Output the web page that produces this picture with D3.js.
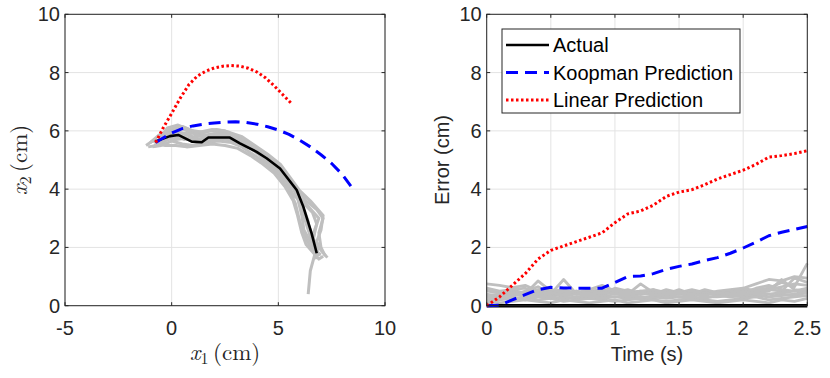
<!DOCTYPE html>
<html>
<head>
<meta charset="utf-8">
<script src="https://cdn.jsdelivr.net/npm/d3@7"></script>
<style>
  body { margin: 0; background: #fff; }
  svg { display: block; }
</style>
</head>
<body>
<div id="chart"></div>
<script>
// ---- Data: left panel (trajectories in x1, x2 cm) ----
const actualPath = [[-0.78,5.63],[-0.08,5.82],[0.31,5.86],[0.94,5.63],[1.41,5.61],[1.72,5.77],[2.73,5.77],[3.2,5.57],[3.98,5.28],[4.45,5.06],[5.08,4.71],[5.86,3.97],[6.17,3.4],[6.56,2.48],[6.8,1.8]];
const koopmanPath = [[-0.75,5.6],[0,5.93],[0.5,6.08],[1,6.17],[1.5,6.23],[2,6.27],[2.5,6.3],[3,6.31],[3.5,6.29],[4,6.23],[4.5,6.14],[5,6.03],[5.5,5.88],[6,5.68],[6.5,5.45],[7,5.18],[7.5,4.88],[8,4.5],[8.4,4.1]];
const linearPath = [[-0.75,5.6],[-0.4,6.1],[0,6.6],[0.4,7.12],[0.8,7.58],[1.2,7.88],[1.6,8.05],[2.0,8.16],[2.4,8.22],[2.8,8.24],[3.2,8.22],[3.6,8.15],[4.0,8.02],[4.4,7.82],[4.8,7.55],[5.2,7.25],[5.6,6.95]];
const trialPaths = [
  [[-1.2,5.5],[-0.8,5.7],[-0.4,5.6],[0,6.0],[0.5,5.9],[1.0,5.8],[1.5,5.85],[2.0,5.9],[2.5,5.85],[3.0,5.7],[3.5,5.5],[4.0,5.3],[4.5,5.1],[5.0,4.8],[5.4,4.4],[5.8,3.9],[6.1,3.3],[6.4,2.6],[6.7,2.0],[6.9,1.7]],
  [[-0.9,5.45],[-0.5,5.5],[0,5.65],[0.5,5.55],[1.0,5.5],[1.6,5.6],[2.2,5.65],[2.8,5.6],[3.3,5.45],[3.8,5.2],[4.4,4.9],[5.0,4.5],[5.5,4.0],[5.8,3.5],[6.0,2.9],[6.3,2.3],[6.6,1.9],[7.0,1.75]],
  [[-0.6,5.7],[-0.2,6.1],[0.3,6.2],[0.8,6.05],[1.3,5.9],[1.8,6.0],[2.4,5.95],[3.0,5.85],[3.6,5.6],[4.2,5.3],[4.8,4.95],[5.3,4.55],[5.7,4.1],[6.0,3.6],[6.3,3.0],[6.6,2.4],[6.8,2.0],[6.5,1.2],[6.4,0.4]],
  [[-0.7,5.6],[-0.3,5.75],[0.2,5.7],[0.7,5.75],[1.2,5.65],[1.7,5.8],[2.3,5.8],[2.9,5.75],[3.5,5.55],[4.1,5.25],[4.7,4.9],[5.3,4.45],[5.9,4.0],[6.3,3.6],[6.8,3.3],[7.1,3.0],[6.9,2.5],[7.0,2.0],[7.2,1.7]],
  [[-0.8,5.5],[-0.4,5.8],[0.1,5.9],[0.6,5.7],[1.1,5.75],[1.6,5.7],[2.1,5.85],[2.7,5.9],[3.3,5.65],[3.9,5.4],[4.5,5.15],[5.1,4.7],[5.6,4.2],[5.9,3.7],[6.1,3.1],[6.2,2.6],[6.5,2.2],[6.9,1.9]],
  [[-1.0,5.6],[-0.6,5.85],[-0.1,6.0],[0.4,6.1],[0.9,5.95],[1.4,5.8],[2.0,5.75],[2.6,5.7],[3.2,5.6],[3.8,5.35],[4.4,5.0],[4.9,4.65],[5.4,4.25],[5.7,3.8],[6.2,3.5],[6.6,3.2],[6.8,2.8],[6.6,2.2],[6.8,1.6]],
  [[-0.9,5.65],[-0.5,5.6],[0,5.75],[0.5,5.8],[1.0,5.7],[1.5,5.65],[2.1,5.7],[2.6,5.75],[3.1,5.6],[3.7,5.4],[4.3,5.15],[4.9,4.85],[5.5,4.3],[5.9,3.8],[6.4,3.4],[6.9,3.0],[6.7,2.6],[6.6,2.0],[6.9,1.8]],
  [[-1.1,5.45],[-0.7,5.5],[-0.2,5.9],[0.3,5.95],[0.8,5.9],[1.3,5.95],[1.9,6.05],[2.5,6.0],[3.1,5.8],[3.7,5.5],[4.3,5.25],[4.9,4.9],[5.4,4.45],[5.8,4.0],[6.1,3.5],[6.4,2.9],[6.5,2.3],[6.7,1.9]],
  [[-0.7,5.55],[-0.3,5.5],[0.2,5.5],[0.7,5.45],[1.3,5.5],[1.9,5.55],[2.5,5.5],[3.1,5.4],[3.7,5.15],[4.2,4.9],[4.8,4.55],[5.3,4.1],[5.7,3.6],[5.9,3.1],[6.1,2.5],[6.3,2.1],[6.9,1.6],[7.1,1.7]],
  [[-0.5,5.8],[0,6.1],[0.5,6.15],[1.0,6.0],[1.5,5.95],[2.1,6.05],[2.7,5.95],[3.3,5.8],[3.9,5.5],[4.5,5.2],[5.1,4.85],[5.6,4.35],[6.0,3.95],[6.5,3.6],[7.1,3.1],[7.0,2.6],[6.8,2.2],[7.0,1.9],[7.3,1.65]]
];

// ---- Data: right panel (error vs time) ----
const timeSteps = [0,0.1,0.2,0.3,0.4,0.5,0.6,0.7,0.8,0.9,1.0,1.1,1.2,1.3,1.4,1.5,1.6,1.7,1.8,1.9,2.0,2.1,2.2,2.3,2.4,2.5];
const actualError = [0,0,0,0,0,0,0,0,0,0,0,0,0,0,0,0,0,0,0,0,0,0,0,0,0,0];
const koopmanError = [0,0.02,0.2,0.38,0.55,0.63,0.61,0.6,0.6,0.6,0.8,1.0,1.02,1.1,1.25,1.35,1.43,1.55,1.65,1.8,1.98,2.18,2.4,2.52,2.62,2.72];
const linearError = [0,0.3,0.7,1.1,1.6,1.9,2.05,2.2,2.35,2.5,2.85,3.15,3.25,3.45,3.75,3.9,3.98,4.15,4.35,4.5,4.65,4.85,5.1,5.15,5.22,5.32];
const trialErrors = [
  [0.75,0.7,0.62,0.7,0.5,0.55,0.45,0.5,0.4,0.5,0.45,0.55,0.4,0.5,0.45,0.4,0.45,0.4,0.5,0.55,0.6,0.75,0.9,0.85,1.0,0.95],
  [0.5,0.45,0.55,0.4,0.85,0.5,0.45,0.4,0.5,0.55,0.45,0.4,0.75,0.45,0.4,0.55,0.4,0.45,0.35,0.4,0.5,0.55,0.6,0.8,0.65,1.45],
  [0.2,0.35,0.5,0.45,0.55,0.4,0.9,0.4,0.45,0.4,0.6,0.5,0.4,0.45,0.5,0.45,0.55,0.45,0.4,0.45,0.55,0.45,0.5,0.9,0.55,0.5],
  [0.1,0.3,0.4,0.35,0.45,0.35,0.4,0.5,0.35,0.4,0.45,0.35,0.4,0.55,0.35,0.4,0.35,0.5,0.35,0.5,0.4,0.45,0.55,0.5,0.95,0.8],
  [0.05,0.2,0.25,0.3,0.3,0.25,0.3,0.25,0.3,0.35,0.3,0.25,0.3,0.3,0.25,0.3,0.25,0.3,0.3,0.35,0.3,0.35,0.3,0.4,0.35,0.45],
  [0.4,0.3,0.2,0.3,0.2,0.25,0.15,0.2,0.25,0.2,0.15,0.2,0.25,0.2,0.15,0.2,0.25,0.2,0.15,0.2,0.25,0.3,0.2,0.25,0.3,0.35],
  [0.6,0.5,0.55,0.6,0.45,0.5,0.55,0.4,0.45,0.5,0.55,0.45,0.5,0.4,0.55,0.45,0.5,0.45,0.4,0.5,0.45,0.6,0.7,0.55,0.5,0.6],
  [0.3,0.25,0.3,0.2,0.35,0.3,0.25,0.3,0.35,0.25,0.3,0.35,0.3,0.25,0.35,0.3,0.3,0.25,0.35,0.3,0.35,0.4,0.3,0.35,0.4,0.5],
  [0.15,0.1,0.15,0.2,0.15,0.1,0.2,0.15,0.1,0.15,0.2,0.1,0.15,0.2,0.1,0.15,0.2,0.15,0.1,0.15,0.2,0.15,0.1,0.2,0.15,0.25],
  [0.55,0.45,0.35,0.5,0.65,0.4,0.5,0.45,0.55,0.7,0.5,0.45,0.5,0.55,0.45,0.5,0.4,0.55,0.45,0.45,0.6,0.5,0.55,0.65,0.75,0.7],
  [0.35,0.4,0.45,0.35,0.4,0.45,0.35,0.4,0.4,0.45,0.4,0.4,0.45,0.35,0.4,0.45,0.4,0.35,0.45,0.4,0.4,0.45,0.4,0.45,0.5,0.55]
];

const leftXTicks = [-5, 0, 5, 10];
const leftYTicks = [0, 2, 4, 6, 8, 10];
const rightXTicks = [0, 0.5, 1, 1.5, 2, 2.5];
const rightYTicks = [0, 2, 4, 6, 8, 10];
const legendLabels = ['Actual', 'Koopman Prediction', 'Linear Prediction'];

// ---- Styles ----
const axisColor = '#262626';
const gridColor = '#e3e3e3';
const grayColor = '#bfbfbf';
const font = 'Arial, "Liberation Sans", Helvetica, sans-serif';
const serif = '"Latin Modern Roman", "CMU Serif", "DejaVu Serif", "Liberation Serif", serif';
const lineStyles = [
  { color: '#000000', width: 2.6, dash: null },
  { color: '#0000ff', width: 3, dash: '12,7' },
  { color: '#ff0000', width: 3, dash: '2.5,2.5' }
];

const svg = d3.select('#chart').append('svg')
  .attr('width', 830)
  .attr('height', 378);

const plotTop = 14.3, plotBottom = 305.7;

function makeAxes(x0, x1, xDomain, xTicks, yTicks, xFmt) {
  const x = d3.scaleLinear().domain(xDomain).range([x0, x1]);
  const y = d3.scaleLinear().domain([0, 10]).range([plotBottom, plotTop]);
  const g = svg.append('g');

  // grid
  g.selectAll('line.gx').data(xTicks).join('line')
    .attr('x1', d => x(d)).attr('x2', d => x(d))
    .attr('y1', plotTop).attr('y2', plotBottom)
    .attr('stroke', gridColor).attr('stroke-width', 1);
  g.selectAll('line.gy').data(yTicks).join('line')
    .attr('y1', d => y(d)).attr('y2', d => y(d))
    .attr('x1', x0).attr('x2', x1)
    .attr('stroke', gridColor).attr('stroke-width', 1);

  const plot = g.append('g');
  const over = svg.append('g');

  // box
  over.append('rect')
    .attr('x', x0).attr('y', plotTop)
    .attr('width', x1 - x0).attr('height', plotBottom - plotTop)
    .attr('fill', 'none').attr('stroke', axisColor).attr('stroke-width', 1);

  // tick marks (inside, both sides)
  xTicks.forEach(t => {
    over.append('line').attr('x1', x(t)).attr('x2', x(t)).attr('y1', plotBottom).attr('y2', plotBottom - 3.5).attr('stroke', axisColor);
    over.append('line').attr('x1', x(t)).attr('x2', x(t)).attr('y1', plotTop).attr('y2', plotTop + 3.5).attr('stroke', axisColor);
  });
  yTicks.forEach(t => {
    over.append('line').attr('y1', y(t)).attr('y2', y(t)).attr('x1', x0).attr('x2', x0 + 3.5).attr('stroke', axisColor);
    over.append('line').attr('y1', y(t)).attr('y2', y(t)).attr('x1', x1).attr('x2', x1 - 3.5).attr('stroke', axisColor);
  });

  // tick labels
  over.selectAll('text.xt').data(xTicks).join('text')
    .attr('x', d => x(d)).attr('y', 335)
    .attr('text-anchor', 'middle')
    .attr('font-family', font).attr('font-size', 20)
    .attr('fill', axisColor)
    .text(xFmt);
  over.selectAll('text.yt').data(yTicks).join('text')
    .attr('x', x0 - 5).attr('y', d => y(d) + 7)
    .attr('text-anchor', 'end')
    .attr('font-family', font).attr('font-size', 20)
    .attr('fill', axisColor)
    .text(d => d);

  return { x, y, plot, over };
}

function drawLine(parent, pts, style) {
  const p = parent.append('path')
    .attr('d', d3.line()(pts))
    .attr('fill', 'none')
    .attr('stroke', style.color)
    .attr('stroke-width', style.width)
    .attr('stroke-linejoin', 'round');
  if (style.dash) p.attr('stroke-dasharray', style.dash);
  return p;
}

// ---- Left panel ----
const L = makeAxes(65, 385, [-5, 10], leftXTicks, leftYTicks, d => d);
const toL = pts => pts.map(p => [L.x(p[0]), L.y(p[1])]);
trialPaths.forEach(t => drawLine(L.plot, toL(t), { color: grayColor, width: 3 }));
drawLine(L.plot, toL(actualPath), lineStyles[0]);
drawLine(L.plot, toL(koopmanPath), lineStyles[1]);
drawLine(L.plot, toL(linearPath), lineStyles[2]);

// x1 label
const xl = L.over.append('text')
  .attr('x', 225).attr('y', 360)
  .attr('text-anchor', 'middle')
  .attr('font-family', serif).attr('font-size', 23)
  .attr('fill', axisColor);
xl.append('tspan').attr('font-style', 'italic').text('x');
xl.append('tspan').attr('font-size', 16).attr('dy', 4).text('1');
xl.append('tspan').attr('dy', -4).text('\u2009(cm)');

const yl = L.over.append('text')
  .attr('transform', `translate(27,${(plotTop + plotBottom) / 2}) rotate(-90)`)
  .attr('text-anchor', 'middle')
  .attr('font-family', serif).attr('font-size', 23)
  .attr('fill', axisColor);
yl.append('tspan').attr('font-style', 'italic').text('x');
yl.append('tspan').attr('font-size', 16).attr('dy', 4).text('2');
yl.append('tspan').attr('dy', -4).text('\u2009(cm)');

// ---- Right panel ----
const R = makeAxes(486.7, 807.3, [0, 2.5], rightXTicks, rightYTicks, d => d);
trialErrors.forEach(e => drawLine(R.plot, timeSteps.map((t, i) => [R.x(t), R.y(e[i])]), { color: grayColor, width: 2.8 }));
drawLine(R.plot, timeSteps.map((t, i) => [R.x(t), R.y(actualError[i])]), { color: '#000', width: 3.5 });
drawLine(R.plot, timeSteps.map((t, i) => [R.x(t), R.y(koopmanError[i])]), lineStyles[1]);
drawLine(R.plot, timeSteps.map((t, i) => [R.x(t), R.y(linearError[i])]), lineStyles[2]);

R.over.append('text')
  .attr('x', (486.7 + 807.3) / 2).attr('y', 361)
  .attr('text-anchor', 'middle')
  .attr('font-family', font).attr('font-size', 20)
  .attr('fill', axisColor)
  .text('Time (s)');

R.over.append('text')
  .attr('transform', `translate(449,${(plotTop + plotBottom) / 2}) rotate(-90)`)
  .attr('text-anchor', 'middle')
  .attr('font-family', font).attr('font-size', 20)
  .attr('fill', axisColor)
  .text('Error (cm)');

// legend
const leg = R.over.append('g');
leg.append('rect')
  .attr('x', 502).attr('y', 29)
  .attr('width', 238).attr('height', 84)
  .attr('fill', '#fff').attr('stroke', axisColor).attr('stroke-width', 1);
legendLabels.forEach((label, i) => {
  const ly = 45 + i * 27.5;
  drawLine(leg, [[506, ly], [549, ly]], lineStyles[i]);
  leg.append('text')
    .attr('x', 553).attr('y', ly + 7)
    .attr('font-family', font).attr('font-size', 20)
    .attr('fill', '#000')
    .text(label);
});
</script>
</body>
</html>
